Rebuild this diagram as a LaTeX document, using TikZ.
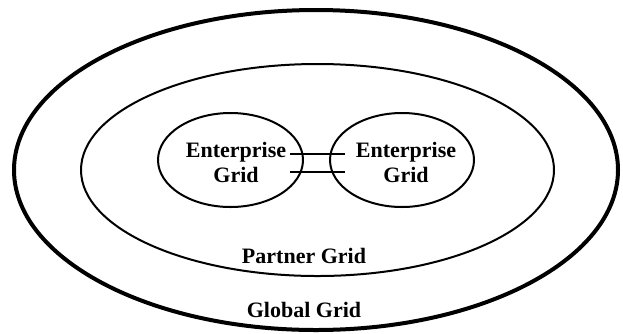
\documentclass[tikz,border=0pt]{standalone}
\usepackage{fontspec}
\setmainfont{Liberation Serif}
\usetikzlibrary{shapes.geometric,calc}
\tikzset{
  lbl/.style={font=\fontsize{22}{25}\selectfont\bfseries, inner sep=0pt, align=center},
  ring/.style={draw, ellipse, inner sep=0pt, outer sep=0pt},
  link/.style={line width=2pt}
}
\begin{document}
\begin{tikzpicture}[x=1pt,y=-1pt]
\useasboundingbox (0,0) rectangle (623,333);
% outer and partner ellipses
\node[ring, line width=4pt, minimum width=604pt, minimum height=320pt] (global) at (316,170) {};
\node[ring, line width=2pt, minimum width=473pt, minimum height=212pt] (partner) at (317.5,170) {};
% enterprise ellipses
\node[ring, line width=2pt, minimum width=145pt, minimum height=94pt] (entL) at (230.5,160) {};
\node[ring, line width=2pt, minimum width=144pt, minimum height=94pt] (entR) at (402,160) {};
% labels
\node[lbl] (tL) at (236,162) {Enterprise\\Grid};
\node[lbl] (tR) at (406,162) {Enterprise\\Grid};
\node[lbl, anchor=base] (tP) at (304,263.5) {Partner Grid};
\node[lbl, anchor=base] (tG) at (304,317) {Global Grid};
% connectors
\coordinate (a1) at ($(entL.center)+(59.5,-6)$);
\coordinate (b1) at ($(entR.center)+(-57,-6)$);
\coordinate (a2) at ($(entL.center)+(59.5,12)$);
\coordinate (b2) at ($(entR.center)+(-57,12)$);
\draw[link] (a1) -- (b1);
\draw[link] (a2) -- (b2);
\end{tikzpicture}
\end{document}
